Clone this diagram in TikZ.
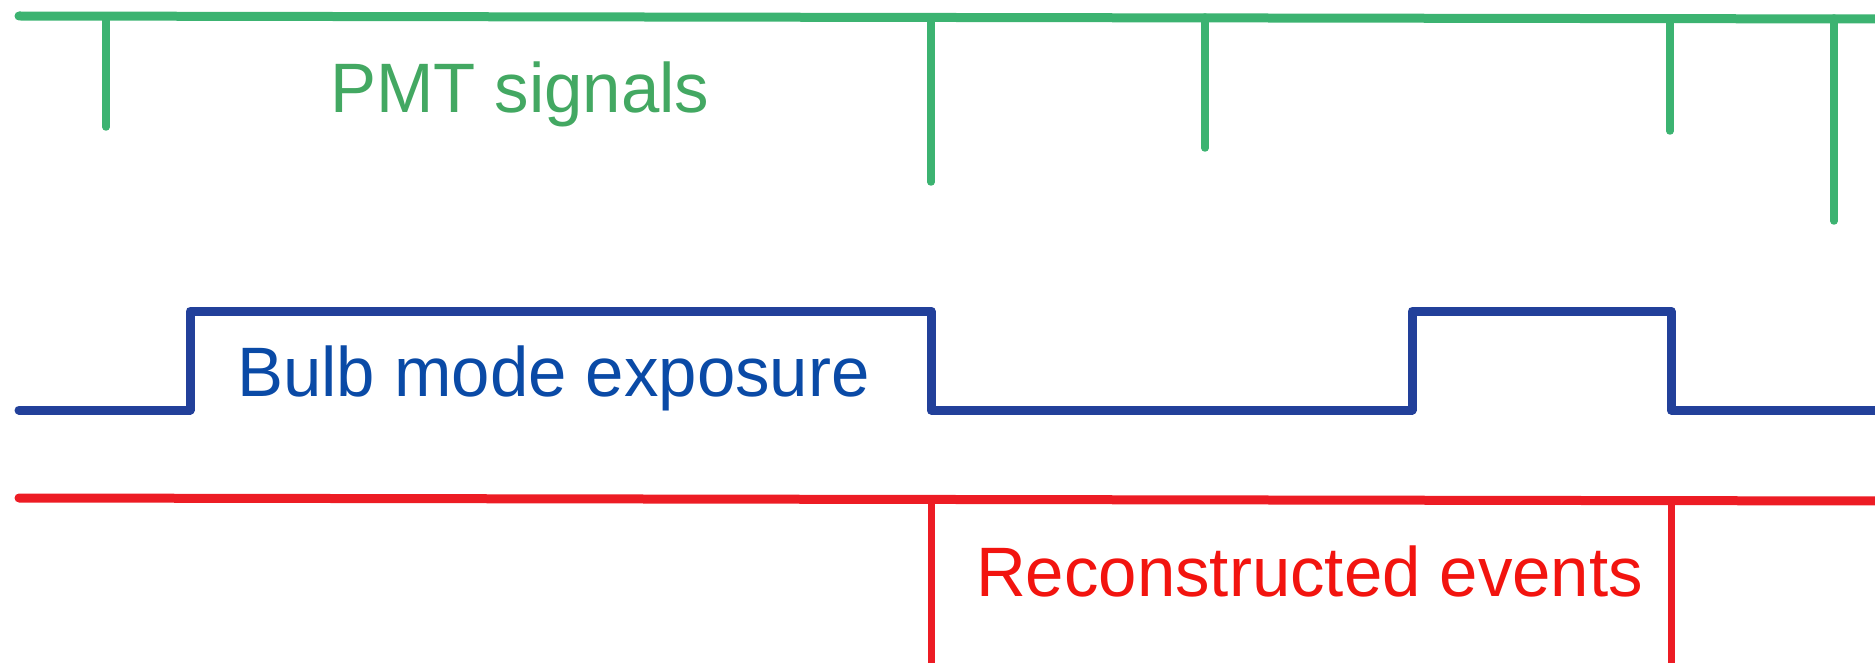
\documentclass[tikz,border=0pt]{standalone}
\usepackage{fontspec}
\setmainfont[FakeStretch=0.985]{Liberation Sans}
\definecolor{pmtgreen}{HTML}{3CB371}
\definecolor{pmttext}{HTML}{43A862}
\definecolor{bulbblue}{HTML}{22409A}
\definecolor{bulbtext}{HTML}{0A4AA6}
\definecolor{evred}{HTML}{ED1C24}
\definecolor{evtext}{HTML}{F2140F}
\tikzset{
  pmtline/.style={draw=pmtgreen, line width=9pt, line cap=round},
  pmttick/.style={draw=pmtgreen, line width=7.5pt, line cap=round},
  bulbline/.style={draw=bulbblue, line width=9pt, line cap=round, line join=round},
  evline/.style={draw=evred, line width=9pt, line cap=round},
  evmark/.style={draw=evred, line width=7pt},
  caption/.style={inner sep=0pt, anchor=base west, font=\fontsize{70}{84}\selectfont}
}
\begin{document}
\begin{tikzpicture}[x=1pt, y=-1pt]
\useasboundingbox (0,0) rectangle (1875,663);
\clip (0,0) rectangle (1875,663);

% PMT signal trace with its pulses
\coordinate (g0) at (19,16);
\coordinate (g1) at (1890,19);
\path[pmtline] (g0) -- (g1);
\foreach \x/\y/\b in {106/16/127, 931/17/182, 1205/17/148, 1670/18/131, 1834/18/221}{
  \coordinate (t\x a) at (\x,\y);
  \coordinate (t\x b) at (\x,\b);
  \path[pmttick] (t\x a) -- (t\x b);
}
\node[caption, text=pmttext] (pmt) at (330,113) {PMT signals};

% Bulb mode exposure gate
\coordinate (b0) at (19,410);
\coordinate (b1) at (190,410);
\coordinate (b2) at (190,311);
\coordinate (b3) at (931,311);
\coordinate (b4) at (931,410);
\coordinate (b5) at (1412,410);
\coordinate (b6) at (1412,311);
\coordinate (b7) at (1671,311);
\coordinate (b8) at (1671,410);
\coordinate (b9) at (1895,410);
\path[bulbline] (b0) -- (b1) -- (b2) -- (b3) -- (b4) -- (b5) -- (b6) -- (b7) -- (b8) -- (b9);
\node[caption, text=bulbtext] (bulb) at (237,396) {Bulb mode exposure};

% Reconstructed events
\coordinate (r0) at (19,498);
\coordinate (r1) at (1895,501);
\path[evline] (r0) -- (r1);
\coordinate (e1a) at (931,499);
\coordinate (e1b) at (931,670);
\coordinate (e2a) at (1671,500);
\coordinate (e2b) at (1671,670);
\path[evmark] (e1a) -- (e1b);
\path[evmark] (e2a) -- (e2b);
\node[caption, text=evtext] (ev) at (976,596) {Reconstructed events};
\end{tikzpicture}
\end{document}
